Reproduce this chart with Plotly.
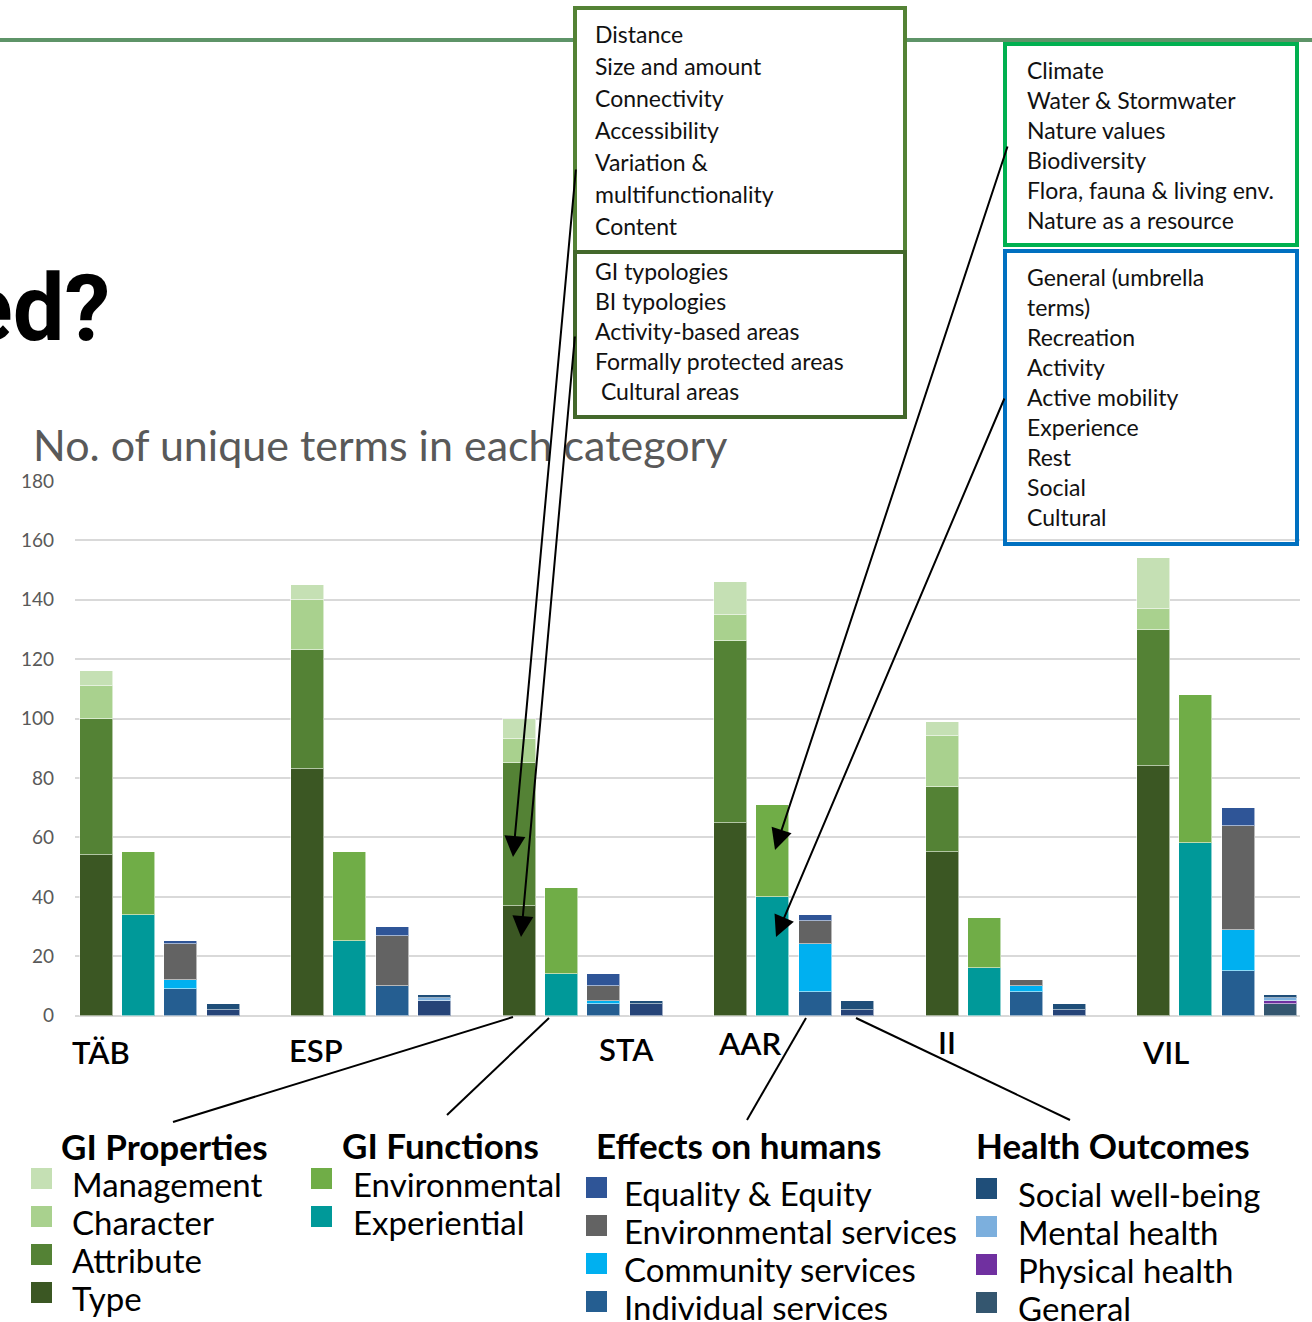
import plotly.graph_objects as go

W, H = 1312, 1322

# ---------------- data ----------------
sites = ["TÄB", "ESP", "STA", "AAR", "II", "VIL"]

# GI Properties (stack bottom -> top)
prop_type = [54, 83, 37, 65, 55, 84]
prop_attribute = [46, 40, 48, 61, 22, 46]
prop_character = [11, 17, 8, 9, 17, 7]
prop_management = [5, 5, 7, 11, 5, 17]

# GI Functions
fun_experiential = [34, 25, 14, 40, 16, 58]
fun_environmental = [21, 30, 29, 31, 17, 50]

# Effects on humans
eff_individual = [9, 10, 4, 8, 8, 15]
eff_community = [3, 0, 1, 16, 2, 14]
eff_environmental = [12, 17, 5, 8, 2, 35]
eff_equality = [1, 3, 4, 2, 0, 6]

# Health outcomes
hea_other = [2, 5, 4, 2, 2, 0]
hea_general = [0, 0, 0, 0, 0, 4]
hea_physical = [0, 0, 0, 0, 0, 1]
hea_mental = [0, 1, 0, 0, 0, 1]
hea_social = [2, 1, 1, 3, 2, 1]

y_ticks = [0, 20, 40, 60, 80, 100, 120, 140, 160, 180]

box1_lines = ["Distance", "Size and amount", "Connectivity", "Accessibility",
              "Variation &", "multifunctionality", "Content"]
box2_lines = ["GI typologies", "BI typologies", "Activity-based areas",
              "Formally protected areas", " Cultural areas"]
box3_lines = ["Climate", "Water & Stormwater", "Nature values", "Biodiversity",
              "Flora, fauna & living env.", "Nature as a resource"]
box4_lines = ["General (umbrella", "terms)", "Recreation", "Activity",
              "Active mobility", "Experience", "Rest", "Social", "Cultural"]

# ---------------- helpers ----------------
def px(x):
    return x / W

def py(y):
    return 1 - y / H

SLOTS = 5  # 4 bars + 1 gap per site
series = [
    # (slot, name, values, color)
    (0, "Type", prop_type, "#3B5723"),
    (0, "Attribute", prop_attribute, "#548235"),
    (0, "Character", prop_character, "#A9D18E"),
    (0, "Management", prop_management, "#C5E0B4"),
    (1, "Experiential", fun_experiential, "#009999"),
    (1, "Environmental", fun_environmental, "#70AD47"),
    (2, "Individual services", eff_individual, "#255E91"),
    (2, "Community services", eff_community, "#00B0F0"),
    (2, "Environmental services", eff_environmental, "#636363"),
    (2, "Equality & Equity", eff_equality, "#2F5597"),
    (3, "Other", hea_other, "#264478"),
    (3, "General", hea_general, "#34566F"),
    (3, "Physical health", hea_physical, "#7030A0"),
    (3, "Mental health", hea_mental, "#7CAFDD"),
    (3, "Social well-being", hea_social, "#1F4E79"),
]

fig = go.Figure()
for slot, name, vals, color in series:
    xs = [g * SLOTS + slot for g in range(len(sites))]
    ys = [v if v else None for v in vals]
    fig.add_trace(go.Bar(
        x=xs, y=ys, name=name, width=0.78,
        marker=dict(color=color, line=dict(color="rgba(255,255,255,0.55)", width=1)),
        showlegend=False, hoverinfo="x+y+name",
    ))

shapes = []
annotations = []

# top green rule
shapes.append(dict(type="line", xref="paper", yref="paper", x0=0, x1=1,
                   y0=py(40), y1=py(40), line=dict(color="#5E9468", width=4), layer="above"))

# boxes
def box(x0, y0, x1, y1, color, fill):
    shapes.append(dict(type="rect", xref="paper", yref="paper",
                       x0=px(x0), x1=px(x1), y0=py(y0), y1=py(y1),
                       line=dict(color=color, width=4), fillcolor=fill, layer="above"))

box(575, 8, 905, 252, "#548235", "white")
box(575, 252, 905, 417, "#43682B", "white")
box(1005, 44, 1297, 245, "#00B050", "white")
box(1005, 251, 1297, 544, "#0070C0", "rgba(0,0,0,0)")

BOXFONT = "Lato"

def box_text(lines, x, y0, step, size):
    for i, t in enumerate(lines):
        annotations.append(dict(text=t, xref="paper", yref="paper", x=px(x), y=py(y0 + i * step),
                                xanchor="left", yanchor="middle", showarrow=False,
                                font=dict(family=BOXFONT, size=size, color="#111111")))

box_text(box1_lines, 593, 34, 32, 23)
box_text(box2_lines, 593, 271, 30, 23)
box_text(box3_lines, 1025, 70, 30, 23)
box_text(box4_lines, 1025, 277, 30, 23)

# partial slide title
annotations.append(dict(text="<b>ed?</b>", xref="paper", yref="paper", x=px(112), y=py(308),
                        xanchor="right", yanchor="middle", showarrow=False,
                        font=dict(family="Roboto", size=92, color="#000000", weight=900)))

# chart title
annotations.append(dict(text="No. of unique terms in each category", xref="paper", yref="paper",
                        x=px(31), y=py(445), xanchor="left", yanchor="middle", showarrow=False,
                        font=dict(family="Lato", size=43, color="#595959")))

# site labels
site_pos = [(101, 1052), (316, 1050), (626, 1049), (750, 1043), (947, 1042), (1165, 1052)]
for name, (x, y) in zip(sites, site_pos):
    annotations.append(dict(text=name, xref="paper", yref="paper", x=px(x), y=py(y),
                            xanchor="center", yanchor="middle", showarrow=False,
                            font=dict(family="Lato", size=31, color="#000000", weight=600)))

# arrows
arrows = [((513, 857), (576, 168)), ((521, 937), (575, 335)),
          ((775, 850), (1008, 145)), ((776, 937), (1005, 397))]
for (hx, hy), (tx, ty) in arrows:
    annotations.append(dict(text="", xref="paper", yref="paper", x=px(hx), y=py(hy),
                            ax=tx - hx, ay=ty - hy, showarrow=True, arrowhead=2,
                            arrowsize=2.1, arrowwidth=2, arrowcolor="#000000"))

# plain connector lines
for (x0, y0), (x1, y1) in [((513, 1017), (173, 1122)), ((549, 1018), (447, 1115)),
                           ((806, 1018), (747, 1120)), ((856, 1018), (1070, 1120))]:
    shapes.append(dict(type="line", xref="paper", yref="paper", x0=px(x0), y0=py(y0),
                       x1=px(x1), y1=py(y1), line=dict(color="#000000", width=2), layer="above"))

# custom legend
LEGFONT = "Lato"
groups = [
    ("GI Properties", 59, 1146, 31, 70,
     [("Management", "#C5E0B4", 1184), ("Character", "#A9D18E", 1222),
      ("Attribute", "#548235", 1260), ("Type", "#3B5723", 1298)]),
    ("GI Functions", 340, 1145, 311, 351,
     [("Environmental", "#70AD47", 1184), ("Experiential", "#009999", 1222)]),
    ("Effects on humans", 594, 1145, 586, 622,
     [("Equality & Equity", "#2F5597", 1193), ("Environmental services", "#636363", 1231),
      ("Community services", "#00B0F0", 1269), ("Individual services", "#255E91", 1307)]),
    ("Health Outcomes", 974, 1145, 976, 1016,
     [("Social well-being", "#1F4E79", 1194), ("Mental health", "#7CAFDD", 1232),
      ("Physical health", "#7030A0", 1270), ("General", "#34566F", 1308)]),
]
for title, tx, ty, sx, lx, items in groups:
    annotations.append(dict(text="<b>" + title + "</b>", xref="paper", yref="paper",
                            x=px(tx), y=py(ty), xanchor="left", yanchor="middle", showarrow=False,
                            font=dict(family=LEGFONT, size=35, color="#000000", weight=900)))
    for label, color, cy in items:
        shapes.append(dict(type="rect", xref="paper", yref="paper",
                           x0=px(sx), x1=px(sx + 21), y0=py(cy - 16), y1=py(cy + 5),
                           line=dict(width=0), fillcolor=color, layer="above"))
        annotations.append(dict(text=label, xref="paper", yref="paper", x=px(lx), y=py(cy),
                                xanchor="left", yanchor="middle", showarrow=False,
                                font=dict(family=LEGFONT, size=33, color="#000000")))

fig.update_layout(
    width=W, height=H, margin=dict(l=0, r=0, t=0, b=0),
    paper_bgcolor="white", plot_bgcolor="white",
    barmode="stack", bargap=0,
    shapes=shapes, annotations=annotations,
    xaxis=dict(domain=[px(75), px(1300)], range=[-0.5, 28.46], showticklabels=False,
               showgrid=False, zeroline=False, showline=False, fixedrange=True),
    yaxis=dict(domain=[py(1015.7), py(481)], range=[0, 180], tickvals=y_ticks,
               showgrid=True, gridcolor="#D9D9D9", gridwidth=1.5,
               zeroline=True, zerolinecolor="#D9D9D9", zerolinewidth=2,
               showline=False, ticks="", ticklabelstandoff=20, automargin=False,
               tickfont=dict(family="Lato", size=19, color="#595959")),
)

fig.write_html("out.html", config={"displayModeBar": False},
               post_script="document.body.style.margin='0';document.body.style.overflow='hidden';")
